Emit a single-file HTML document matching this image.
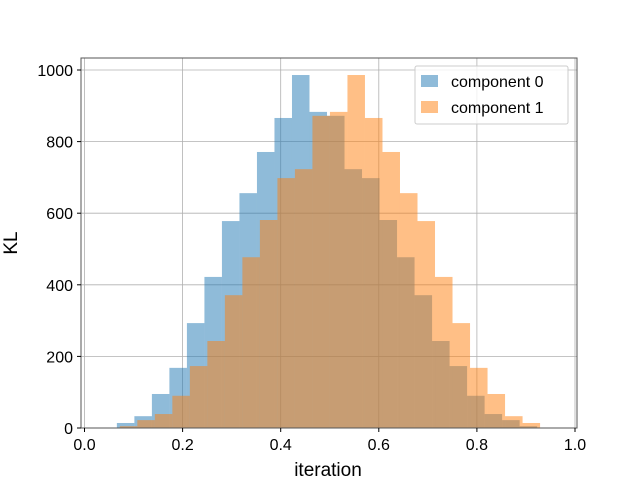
<!DOCTYPE html>
<html><head><meta charset="utf-8"><style>
body{margin:0;background:#fff;}
svg text{font-family:"Liberation Sans","DejaVu Sans",sans-serif;fill:#000;}
</style></head><body>
<svg id="chart" width="640" height="480" xmlns="http://www.w3.org/2000/svg">
<rect width="640" height="480" fill="#fff"/>
<g id="grid"></g>
<g id="bars"></g>
<rect x="81" y="58" width="496" height="370" fill="none" stroke="#555" stroke-width="1"/>
<g id="ticks"></g>
<text x="328" y="476" font-size="19" text-anchor="middle">iteration</text>
<text transform="translate(17,243) rotate(-90)" font-size="19" text-anchor="middle">KL</text>
<g>
<rect x="415" y="66" width="153" height="58" fill="#fff" fill-opacity="0.8" stroke="#ccc" rx="2"/>
<g><rect x="421" y="75" width="17" height="12" fill="#1f77b4" fill-opacity="0.5"/><text x="451" y="87" font-size="16">component 0</text></g>
<g><rect x="421" y="101" width="17" height="12" fill="#ff7f0e" fill-opacity="0.5"/><text x="451" y="113" font-size="16">component 1</text></g>
</g>
</svg>
<script>
const binWidth = 0.0357;
const start0 = 0.066;
const start1 = 0.072;
const counts0 = [14,33,95,168,293,422,578,656,771,866,986,883,872,723,698,581,477,371,243,173,90,39,22,5];
const counts1 = [5,22,39,90,173,243,371,477,581,698,723,872,883,986,866,771,656,578,422,293,168,95,33,14];
const xTicks = [0,0.2,0.4,0.6,0.8,1.0];
const xTickLabels = ["0.0","0.2","0.4","0.6","0.8","1.0"];
const yTicks = [0,200,400,600,800,1000];
const NS="http://www.w3.org/2000/svg";
const xs=v=>84.5+v*490.5;
const ys=v=>428-v*0.358;
const grid=document.getElementById('grid'),bars=document.getElementById('bars'),ticks=document.getElementById('ticks');
function mk(tag,attrs,parent){const e=document.createElementNS(NS,tag);for(const k in attrs)e.setAttribute(k,attrs[k]);parent.appendChild(e);return e;}
xTicks.forEach((t,i)=>{
  const g=mk('line',{x1:xs(t),x2:xs(t),y1:58,y2:428,stroke:'#b0b0b0','stroke-width':0.8},grid);
  
  
  mk('line',{x1:xs(t),x2:xs(t),y1:428,y2:432,stroke:'#000'},ticks);
  const tx=mk('text',{x:xs(t),y:450,'font-size':16,'text-anchor':'middle'},ticks);
  tx.textContent=xTickLabels[i];
  
  
});
yTicks.forEach(t=>{
  const g=mk('line',{x1:81,x2:577,y1:ys(t),y2:ys(t),stroke:'#b0b0b0','stroke-width':0.8},grid);
  
  
  mk('line',{x1:77,x2:81,y1:ys(t),y2:ys(t),stroke:'#000'},ticks);
  const tx=mk('text',{x:73,y:ys(t)+6,'font-size':16,'text-anchor':'end'},ticks);
  tx.textContent=String(t);
  
  
});
function drawSeries(counts,start,color,name){
  counts.forEach((c,i)=>{
    const x0=xs(start+i*binWidth),x1=xs(start+(i+1)*binWidth);
    const r=mk('rect',{x:x0,y:ys(c),width:x1-x0,height:ys(0)-ys(c),fill:color,'fill-opacity':0.5},bars);
    
    
  });
}
drawSeries(counts0,start0,'#1f77b4','component-0');
drawSeries(counts1,start1,'#ff7f0e','component-1');
</script>
</body></html>
